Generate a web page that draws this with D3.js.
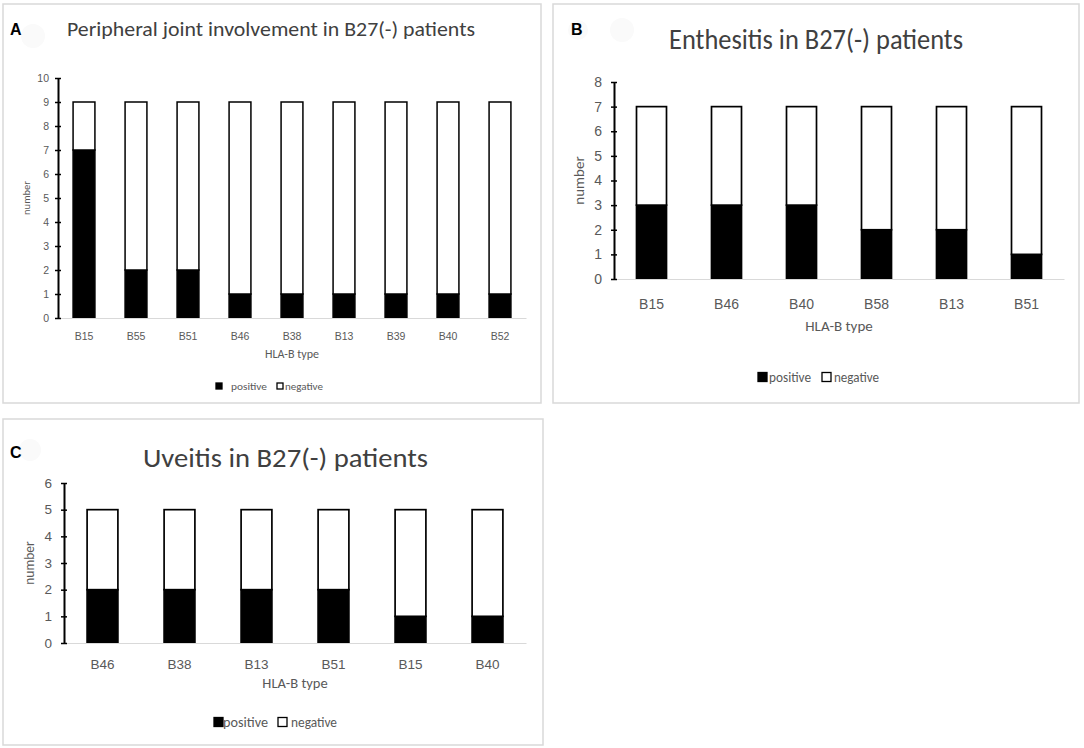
<!DOCTYPE html>
<html><head><meta charset="utf-8">
<script src="https://cdn.jsdelivr.net/npm/d3@7"></script>
<style>
html,body{margin:0;padding:0;background:#fff;}
svg{display:block;font-family:Carlito,Lato,"Open Sans",sans-serif;}
</style></head>
<body>
<svg id="chart" width="1084" height="748"></svg>
<script>
// ---- data ----
const catsA = ["B15","B55","B51","B46","B38","B13","B39","B40","B52"];
const posA  = [7,2,2,1,1,1,1,1,1];
const negA  = [2,7,7,8,8,8,8,8,8];
const ticksA = [0,1,2,3,4,5,6,7,8,9,10];

const catsB = ["B15","B46","B40","B58","B13","B51"];
const posB  = [3,3,3,2,2,1];
const negB  = [4,4,4,5,5,6];
const ticksB = [0,1,2,3,4,5,6,7,8];

const catsC = ["B46","B38","B13","B51","B15","B40"];
const posC  = [2,2,2,2,1,1];
const negC  = [3,3,3,3,4,4];
const ticksC = [0,1,2,3,4,5,6];

const titles = ["Peripheral joint involvement in B27(-) patients","Enthesitis in B27(-) patients","Uveitis in B27(-) patients"];
const letters = ["A","B","C"];
const seriesNames = ["positive","negative"];
const xTitle = "HLA-B type";
const yTitle = "number";

const svg = d3.select("#chart");
const TXT = "#595959";

function panel(cfg){
  const g = svg.append("g");
  g.append("rect").attr("x",cfg.box[0]).attr("y",cfg.box[1]).attr("width",cfg.box[2]-cfg.box[0]).attr("height",cfg.box[3]-cfg.box[1])
    .attr("fill","#fff").attr("stroke","#d9d9d9").attr("stroke-width",1.5);
  cfg.blobs.forEach(b=>g.append("circle").attr("cx",b[0]).attr("cy",b[1]).attr("r",b[2]).attr("fill","#fafafa"));
  g.append("text").attr("x",cfg.letter[0]).attr("y",cfg.letter[1]).text(cfg.letterText)
    .attr("font-family","Liberation Sans, Arial, sans-serif").attr("font-weight","bold").attr("font-size",cfg.letter[2]).attr("fill","#000");
  g.append("text").attr("x",cfg.title[0]).attr("y",cfg.title[1]).text(cfg.titleText)
    .attr("font-size",cfg.title[2]).attr("fill","#404040")
    .attr("textLength",cfg.title[3]).attr("lengthAdjust","spacingAndGlyphs");

  const x = d3.scaleBand().domain(cfg.cats).range([cfg.x0,cfg.x1]).paddingInner(cfg.pad).paddingOuter(cfg.pad/2);
  const y = d3.scaleLinear().domain([0,d3.max(cfg.ticks)]).range([cfg.y0,cfg.y1]);

  const rows = cfg.cats.map((c,i)=>({cat:c, positive:cfg.pos[i], negative:cfg.neg[i]}));
  const stack = d3.stack().keys(seriesNames)(rows);
  const fills = {positive:"#000", negative:"#fff"};
  stack.forEach(layer=>{
    g.append("g").selectAll("rect").data(layer).join("rect")
      .attr("x",d=>x(d.data.cat)).attr("width",x.bandwidth())
      .attr("y",d=>y(d[1])).attr("height",d=>y(d[0])-y(d[1]))
      .attr("fill",fills[layer.key]).attr("stroke","#000").attr("stroke-width",cfg.sw);
  });

  const xa = g.append("g").attr("transform",`translate(0,${cfg.y0})`)
    .call(d3.axisBottom(x).tickSize(0).tickPadding(cfg.xPad));
  xa.select(".domain").attr("stroke","#d9d9d9").attr("stroke-width",1.2);
  xa.selectAll("text").attr("font-size",cfg.fs).attr("fill",TXT).attr("font-family",null);

  const ya = g.append("g").attr("transform",`translate(${cfg.x0},0)`)
    .call(d3.axisLeft(y).tickValues(cfg.ticks).tickFormat(d3.format("d")).tickSize(0).tickPadding(cfg.yPad));
  ya.select(".domain").attr("stroke","#000").attr("stroke-width",2);
  ya.selectAll("text").attr("font-size",cfg.fs).attr("fill",TXT).attr("font-family",null);
  ya.selectAll(".tick").append("line").attr("x1",-3).attr("x2",3).attr("stroke","#000").attr("stroke-width",1.5);

  g.append("text").attr("x",(cfg.x0+cfg.x1)/2).attr("y",cfg.xt[0]).attr("text-anchor","middle")
    .attr("font-size",cfg.xt[1]).attr("fill",TXT).text(xTitle);
  g.append("text").attr("transform",`translate(${cfg.yt[0]},${(cfg.y0+cfg.y1)/2}) rotate(-90)`).attr("text-anchor","middle")
    .attr("font-size",cfg.yt[1]).attr("fill",TXT).text(yTitle);

  const L = cfg.leg;
  seriesNames.forEach((s,i)=>{
    const it = L.items[i];
    g.append("rect").attr("x",it[0]).attr("y",L.cy-L.sq/2).attr("width",L.sq).attr("height",L.sq)
      .attr("fill",fills[s]).attr("stroke","#000").attr("stroke-width",1.3);
    g.append("text").attr("x",it[1]).attr("y",L.cy).attr("dy","0.35em").attr("font-size",L.fs).attr("fill",TXT)
      .attr("textLength",it[2]).attr("lengthAdjust","spacingAndGlyphs").text(s);
  });
}

panel({box:[3,4,541,403], blobs:[[33,36,12]], letter:[10,35,16], letterText:letters[0],
  title:[67,36,21,408], titleText:titles[0],
  cats:catsA, pos:posA, neg:negA, ticks:ticksA,
  x0:58, x1:526, y0:318, y1:78, pad:0.58, sw:1.5,
  fs:10.5, xPad:15, yPad:9, xt:[358,12], yt:[30,10.5],
  leg:{cy:386, sq:6, fs:10.5, items:[[216,231,36],[277,285,38]]}});

panel({box:[553,4,1079,403], blobs:[[578,30,10],[622,30,12]], letter:[571,35,16], letterText:letters[1],
  title:[669,49,28,294], titleText:titles[1],
  cats:catsB, pos:posB, neg:negB, ticks:ticksB,
  x0:614, x1:1064, y0:279, y1:82, pad:0.6, sw:1.7,
  fs:14, xPad:20, yPad:12, xt:[331,15], yt:[584,15],
  leg:{cy:377, sq:9, fs:14, items:[[758,769,42],[822,834,45]]}});

panel({box:[3,419,543,745], blobs:[[30,450,11]], letter:[10,458,16], letterText:letters[2],
  title:[143,467,26,285], titleText:titles[2],
  cats:catsC, pos:posC, neg:negC, ticks:ticksC,
  x0:64, x1:526, y0:643, y1:483, pad:0.6, sw:1.7,
  fs:13.5, xPad:16, yPad:12, xt:[688,14.5], yt:[34,13.5],
  leg:{cy:722, sq:9, fs:14, items:[[214,223,45],[278,291,46]]}});
</script>
</body></html>
